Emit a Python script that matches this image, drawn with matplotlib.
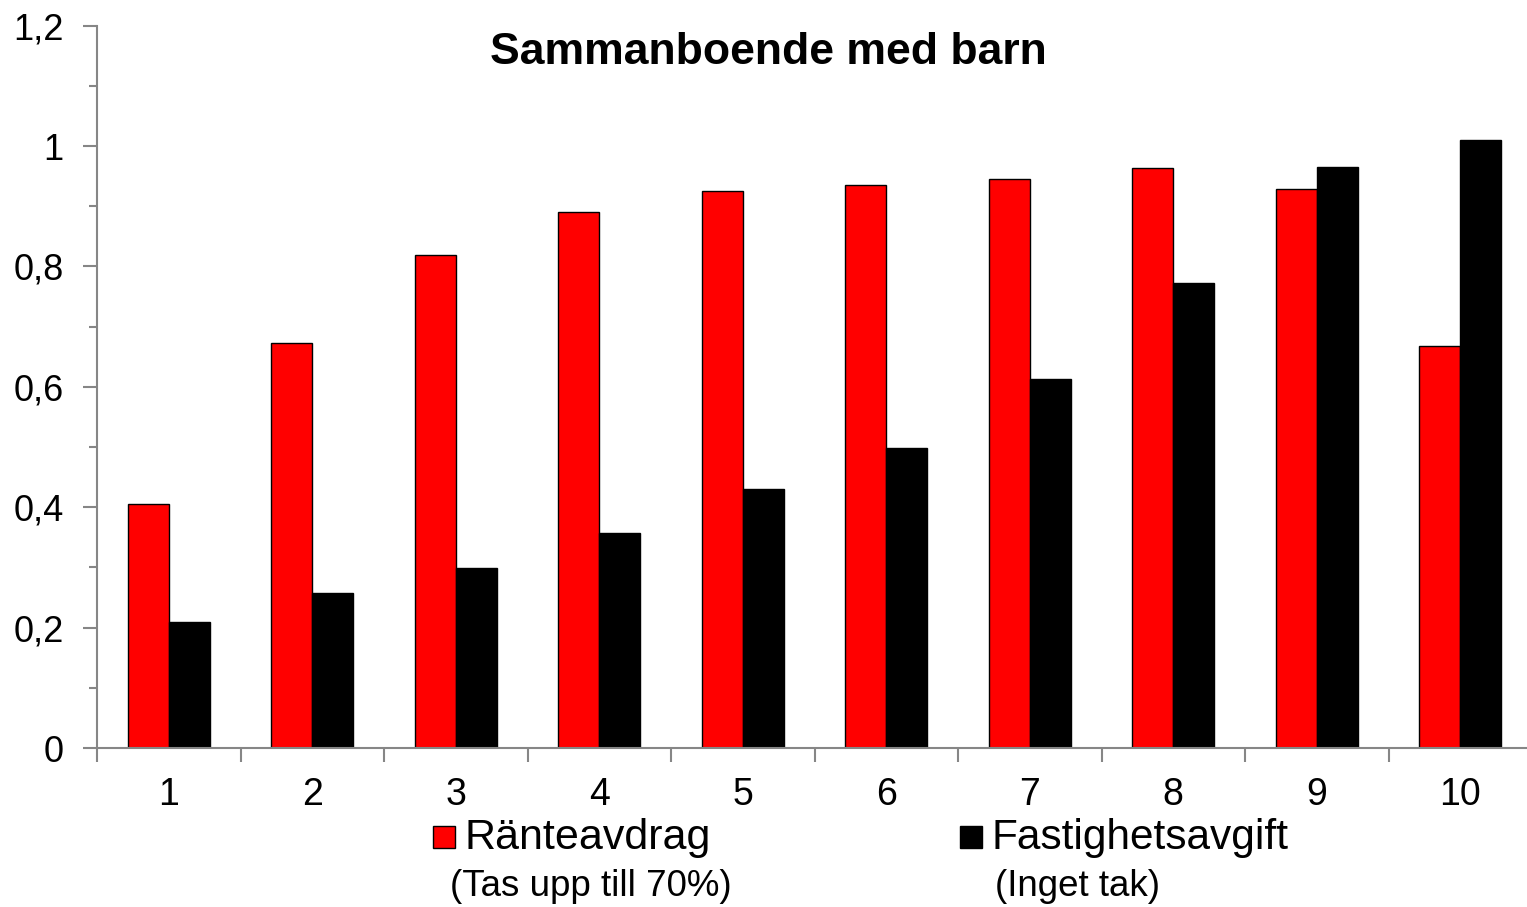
import matplotlib
matplotlib.use('Agg')
import matplotlib.pyplot as plt
from matplotlib.patches import Rectangle
from matplotlib.ticker import MultipleLocator, FixedLocator, NullFormatter
import numpy as np

categories = ['1', '2', '3', '4', '5', '6', '7', '8', '9', '10']
ranteavdrag = [0.405, 0.672, 0.819, 0.890, 0.925, 0.935, 0.945, 0.963, 0.928, 0.668]
fastighetsavgift = [0.209, 0.258, 0.299, 0.357, 0.430, 0.498, 0.613, 0.772, 0.965, 1.010]
yticks = [0, 0.2, 0.4, 0.6, 0.8, 1.0, 1.2]
ytick_labels = ['0', '0,2', '0,4', '0,6', '0,8', '1', '1,2']

plt.rcParams['font.family'] = ['Liberation Sans', 'DejaVu Sans']
grey = '#868686'

fig = plt.figure(figsize=(15.27, 9.07), dpi=100)
# axes runs a little past the right edge, like the original
ax = fig.add_axes([97 / 1527, 1 - 748 / 907, (1532 - 97) / 1527, (748 - 25.6) / 907])

x = np.arange(len(categories))
w = 0.286
ax.bar(x - w / 2, ranteavdrag, w, color='#ff0000', edgecolor='black', linewidth=1)
ax.bar(x + w / 2, fastighetsavgift, w, color='black', edgecolor='black', linewidth=1)

ax.set_xlim(-0.5, len(categories) - 0.5)
ax.set_ylim(0, 1.2)
ax.set_yticks(yticks)
ax.set_yticklabels(ytick_labels)
ax.yaxis.set_minor_locator(MultipleLocator(0.1))
ax.set_xticks(x)
ax.set_xticklabels(categories)
ax.xaxis.set_minor_locator(FixedLocator(np.arange(-0.5, len(categories), 1.0)))
ax.xaxis.set_minor_formatter(NullFormatter())

for s in ['top', 'right']:
    ax.spines[s].set_visible(False)
for s in ['left', 'bottom']:
    ax.spines[s].set_color(grey)
    ax.spines[s].set_linewidth(1.5)

ax.tick_params(axis='y', which='both', direction='out', color=grey, width=1.5, length=10,
               labelsize=26, pad=14)
ax.tick_params(axis='y', which='minor', length=6)
ax.tick_params(axis='x', which='major', length=0, labelsize=27, pad=21)
ax.tick_params(axis='x', which='minor', direction='out', color=grey, width=1.5, length=10)

fig.text(768 / 1527, 1 - 53 / 907, 'Sammanboende med barn', ha='center', va='center',
         fontsize=32, fontweight='bold')

# legend drawn by hand
legend = [(433, 'Ränteavdrag', 31, 450, '(Tas upp till 70%)', '#ff0000'),
          (960, 'Fastighetsavgift', 30.5, 995, '(Inget tak)', 'black')]
for (px, lab, fs, sx, sub, col) in legend:
    fig.patches.append(Rectangle((px / 1527, 1 - 848 / 907), 22 / 1527, 22 / 907,
                                 transform=fig.transFigure, facecolor=col,
                                 edgecolor='black', linewidth=1))
    fig.text((px + 32) / 1527, 1 - 838 / 907, lab, ha='left', va='center', fontsize=fs)
    fig.text(sx / 1527, 1 - 886 / 907, sub, ha='left', va='center', fontsize=26.5)

fig.savefig('out.png', dpi=100)
